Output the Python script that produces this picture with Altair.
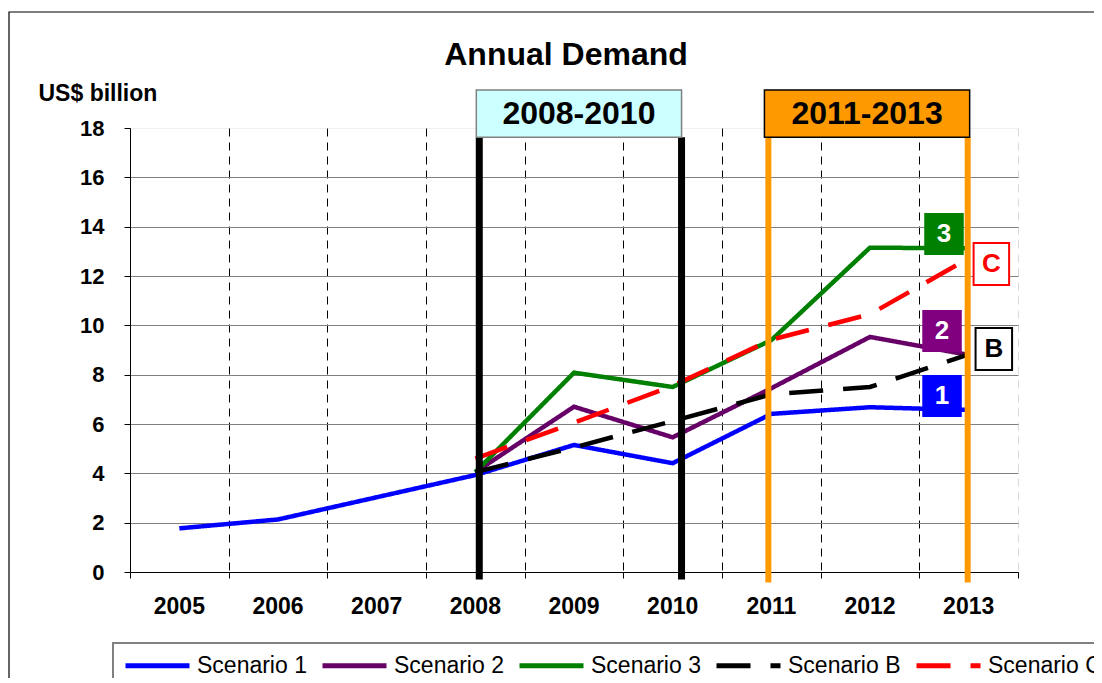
import altair as alt
import pandas as pd

FONT = "Liberation Sans"

# ---- data ----
years = [2005, 2006, 2007, 2008, 2009, 2010, 2011, 2012, 2013]
scenario_1 = [1.77, 2.13, 3.03, 3.93, 5.15, 4.41, 6.41, 6.68, 6.57]
scenario_2 = [None, None, None, 4.05, 6.70, 5.46, 7.45, 9.53, 8.80]
scenario_3 = [None, None, None, 4.05, 8.08, 7.50, 9.40, 13.15, 13.12]
scenario_b = [None, None, None, 4.05, 5.05, 6.12, 7.20, 7.50, 8.82]
scenario_c = [None, None, None, 4.60, 6.05, 7.55, 9.42, 10.45, 12.72]

series_names = ["Scenario 1", "Scenario 2", "Scenario 3", "Scenario B", "Scenario C"]
series_colors = ["#0000FF", "#660066", "#008000", "#000000", "#FF0000"]
series_dashes = [[1, 0], [1, 0], [1, 0], [34, 20], [34, 20]]

y_ticks = [0, 2, 4, 6, 8, 10, 12, 14, 16, 18]
year_labels = [str(y) for y in years]
x_boundaries = [2004.5 + i for i in range(10)]

# period boxes (in year / value units)
period_labels = ["2008-2010", "2011-2013"]
period_start = [2008.01, 2010.93]
period_end = [2010.09, 2013.01]
period_fill = ["#CCFFFF", "#FF9900"]
period_edge = ["#808080", "#000000"]
period_bottom = [17.63, 17.63]
period_top = [19.54, 19.54]

# vertical period markers
marker_years = [2008.04, 2010.09, 2010.97, 2012.99]
marker_colors = ["#000000", "#000000", "#FF9900", "#FF9900"]
marker_widths = [7, 7, 6, 6]
marker_low = [-0.30, -0.30, -0.43, -0.43]
marker_high = [17.63, 17.63, 17.63, 17.63]

# end tags
tag_text = ["3", "C", "2", "B", "1"]
tag_x1 = [2012.56, 2013.05, 2012.54, 2013.07, 2012.54]
tag_x2 = [2012.94, 2013.41, 2012.92, 2013.44, 2012.92]
tag_y1 = [12.89, 11.64, 8.96, 8.19, 6.32]
tag_y2 = [14.51, 13.34, 10.58, 9.89, 7.95]
tag_fill = ["#008000", "#FFFFFF", "#800080", "#FFFFFF", "#0000FF"]
tag_edge = ["#008000", "#FF0000", "#800080", "#000000", "#0000FF"]
tag_ink = ["#FFFFFF", "#FF0000", "#FFFFFF", "#000000", "#FFFFFF"]

# ---- tables ----
rows = []
for name, vals in zip(series_names, [scenario_1, scenario_2, scenario_3, scenario_b, scenario_c]):
    for yr, v in zip(years, vals):
        if v is not None:
            rows.append({"year": yr, "value": v, "series": name})
lines_df = pd.DataFrame(rows)

years_df = pd.DataFrame({"year": years, "label": year_labels})

period_df = pd.DataFrame({
    "label": period_labels, "x1": period_start, "x2": period_end,
    "y1": period_bottom, "y2": period_top, "fill": period_fill, "edge": period_edge,
})
period_df["xm"] = (period_df.x1 + period_df.x2) / 2
period_df["ym"] = (period_df.y1 + period_df.y2) / 2

marker_df = pd.DataFrame({
    "year": marker_years, "color": marker_colors, "w": marker_widths,
    "lo": marker_low, "hi": marker_high,
})

tag_df = pd.DataFrame({
    "t": tag_text, "x1": tag_x1, "x2": tag_x2, "y1": tag_y1, "y2": tag_y2,
    "fill": tag_fill, "edge": tag_edge, "ink": tag_ink,
})
tag_df["xm"] = (tag_df.x1 + tag_df.x2) / 2
tag_df["ym"] = (tag_df.y1 + tag_df.y2) / 2

title_df = pd.DataFrame({"t": ["Annual Demand"]})

# ---- scales & axes ----
xs = alt.Scale(domain=[2004.5, 2013.5], nice=False, zero=False)
ys = alt.Scale(domain=[0, 18], nice=False, zero=True)

x_axis = alt.Axis(
    values=x_boundaries, labels=False, title=None,
    tickSize=6, tickColor="#000000",
    grid=True, gridDash=[8, 6], gridColor="#000000",
    gridOpacity={"condition": {"test": "datum.value > 2013.4", "value": 0.15}, "value": 1},
    domainColor="#000000",
)
y_axis = alt.Axis(
    values=y_ticks, title="US$ billion", titleAngle=0, titleAlign="left",
    titleBaseline="alphabetic", titleX=-92, titleY=-28, titleFont=FONT,
    titleFontSize=23, titleFontWeight="bold", titleColor="#000000",
    labelFont=FONT, labelFontSize=22, labelFontWeight="bold", labelColor="#000000",
    labelPadding=20, tickSize=6, tickColor="#000000", domainColor="#000000",
    grid=True, gridColor="#808080",
    gridOpacity={"condition": {"test": "datum.value === 18", "value": 0.12}, "value": 1},
)

legend = alt.Legend(
    title=None, orient="none", legendX=-17, legendY=493, direction="horizontal",
    symbolType="stroke", symbolSize=4096, symbolStrokeWidth=5,
    labelFont=FONT, labelFontSize=23, labelColor="#000000", labelOffset=5,
    columnPadding=5, padding=10,
)

border = alt.Chart(title_df).mark_rect(fillOpacity=0, stroke="#000000", strokeWidth=1.2).encode(
    x=alt.value(-121), x2=alt.value(1300), y=alt.value(-116), y2=alt.value(900)
)
legend_frame = alt.Chart(title_df).mark_rect(fillOpacity=0, stroke="#808080", strokeWidth=2).encode(
    x=alt.value(-17), x2=alt.value(1300), y=alt.value(515), y2=alt.value(900)
)

lines = alt.Chart(lines_df).mark_line(strokeWidth=4.5).encode(
    x=alt.X("year:Q", scale=xs, axis=x_axis),
    y=alt.Y("value:Q", scale=ys, axis=y_axis),
    color=alt.Color("series:N", scale=alt.Scale(domain=series_names, range=series_colors), legend=legend),
    strokeDash=alt.StrokeDash("series:N", scale=alt.Scale(domain=series_names, range=series_dashes), legend=legend),
    order=alt.Order("year:Q"),
)

year_texts = alt.Chart(years_df).mark_text(
    font=FONT, fontSize=23, fontWeight="bold", baseline="top", align="center", color="#000000"
).encode(x="year:Q", y=alt.value(468), text="label:N")

tag_boxes = alt.Chart(tag_df).mark_rect(strokeWidth=2).encode(
    x="x1:Q", x2="x2:Q", y="y1:Q", y2="y2:Q",
    color=alt.Color("fill:N", scale=None), stroke=alt.Stroke("edge:N", scale=None),
)
tag_texts = alt.Chart(tag_df).mark_text(font=FONT, fontSize=26, fontWeight="bold", baseline="middle", align="center").encode(
    x="xm:Q", y="ym:Q", text="t:N", color=alt.Color("ink:N", scale=None),
)

markers = alt.Chart(marker_df).mark_rule().encode(
    x="year:Q", y="lo:Q", y2="hi:Q",
    color=alt.Color("color:N", scale=None), strokeWidth=alt.StrokeWidth("w:Q", scale=None),
)

period_boxes = alt.Chart(period_df).mark_rect(strokeWidth=1.5).encode(
    x="x1:Q", x2="x2:Q", y="y1:Q", y2="y2:Q",
    color=alt.Color("fill:N", scale=None), stroke=alt.Stroke("edge:N", scale=None),
)
period_texts = alt.Chart(period_df).mark_text(font=FONT, fontSize=32, fontWeight="bold", baseline="middle", align="center", color="#000000").encode(
    x="xm:Q", y="ym:Q", text="label:N",
)

title = alt.Chart(title_df).mark_text(font=FONT, fontSize=32, fontWeight="bold", baseline="alphabetic", align="center", color="#000000").encode(
    x=alt.value(436), y=alt.value(-63), text="t:N",
)

chart = alt.layer(
    border, legend_frame, lines, year_texts, tag_boxes, tag_texts, markers,
    period_boxes, period_texts, title
).properties(
    width=888, height=444,
    autosize=alt.AutoSizeParams(type="none"),
    padding={"left": 122, "top": 120, "right": 76, "bottom": 106},
).configure_view(stroke=None)

chart.save("out.html", embed_options={"renderer": "svg", "actions": False})
